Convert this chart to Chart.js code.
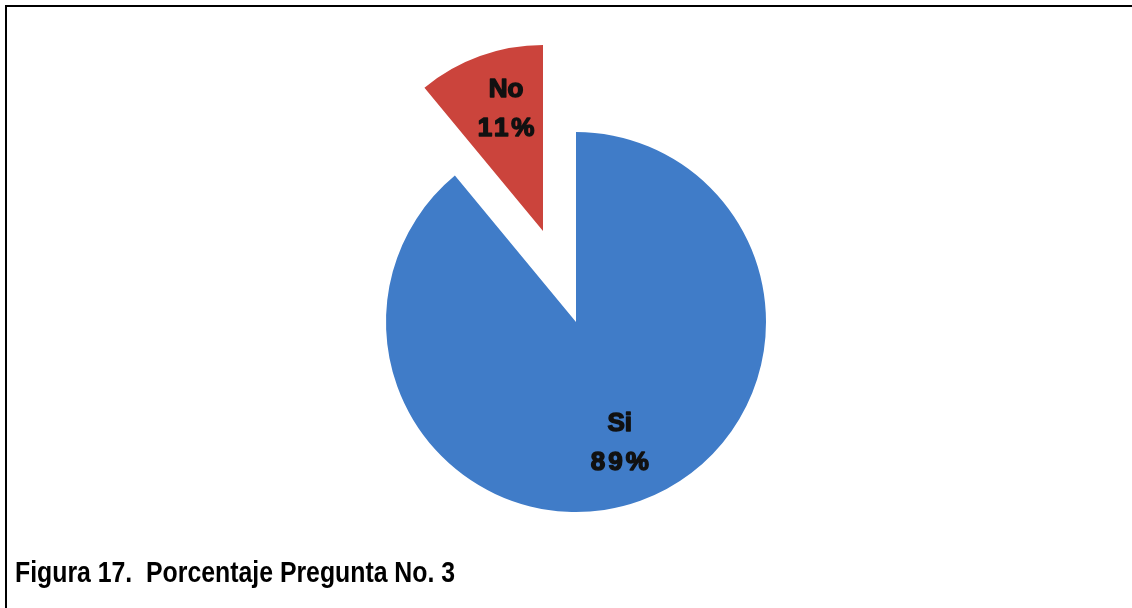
<!DOCTYPE html>
<html lang="es">
<head>
    <meta charset="UTF-8">
    <title>Figura 17</title>
    <script src="https://cdn.jsdelivr.net/npm/chart.js"></script>
    <style>
        body {
            margin: 0;
            background: #fff;
            overflow: hidden;
        }
        .page {
            position: relative;
            width: 1132px;
            height: 608px;
            overflow: hidden;
        }
        .frame {
            position: absolute;
            left: 5px;
            top: 5px;
            width: 1200px;
            height: 700px;
            border-top: 2px solid #000;
            border-left: 2px solid #000;
        }
        .page canvas {
            position: absolute;
            left: 0;
            top: 0;
        }
        .caption {
            position: absolute;
            left: 15px;
            top: 558px;
            font-family: "Liberation Sans", Arial, sans-serif;
            font-weight: bold;
            font-size: 29px;
            line-height: 29px;
            white-space: pre;
            color: #000;
            transform: scaleX(0.856);
            transform-origin: left top;
        }
    </style>
</head>
<body>
    <div class="page">
        <div class="frame"></div>
        <canvas id="pieMain" width="1132" height="608"></canvas>
        <canvas id="pieOut" width="1132" height="608"></canvas>
        <div class="caption">Figura 17.  Porcentaje Pregunta No. 3</div>
    </div>

    <script>
        // Respuestas a la pregunta 3
        const categories = ['Si', 'No'];
        const percentages = [89, 11];
        const labelTexts = ['89%', '11%'];

        // Blue slice, then the red one pulled out of the pie
        const sliceColors = [
            ['#407cc8', '#3667ad'],
            ['#cb443c', '#b0302a']
        ];

        function sliceGradient(context, i) {
            const chart = context.chart;
            const meta = chart.getDatasetMeta(0);
            const arc = meta.data[i];
            if (!arc || !arc.outerRadius) return sliceColors[i][0];
            const g = chart.ctx.createLinearGradient(0, arc.y - arc.outerRadius, 0, arc.y + arc.outerRadius);
            g.addColorStop(0, sliceColors[i][0]);
            g.addColorStop(1, sliceColors[i][1]);
            return g;
        }

        // Draws "category / percent" inside the visible slice
        const sliceLabels = {
            id: 'sliceLabels',
            afterDatasetsDraw(chart, args, opts) {
                const ctx = chart.ctx;
                const arc = chart.getDatasetMeta(0).data[opts.index];
                const mid = (arc.startAngle + arc.endAngle) / 2;
                const r = arc.outerRadius * 0.68;
                const cx = arc.x + Math.cos(mid) * r + opts.dx;
                const cy = arc.y + Math.sin(mid) * r + opts.dy;

                ctx.save();
                ctx.fillStyle = '#111';
                ctx.strokeStyle = '#111';
                ctx.lineWidth = 1.5;
                ctx.lineJoin = 'round';
                ctx.textAlign = 'center';
                ctx.textBaseline = 'middle';
                ctx.font = 'bold 26px "Liberation Sans", Arial, sans-serif';

                const name = categories[opts.index];
                ctx.fillText(name, cx, cy - 19.5);
                ctx.strokeText(name, cx, cy - 19.5);

                ctx.letterSpacing = '3px';
                const pct = labelTexts[opts.index];
                ctx.fillText(pct, cx + 1.5, cy + 19.5);
                ctx.strokeText(pct, cx + 1.5, cy + 19.5);
                ctx.restore();
            }
        };

        function makePie(canvasId, visible, radius, padding, nudge) {
            return new Chart(document.getElementById(canvasId), {
                type: 'pie',
                data: {
                    labels: categories,
                    datasets: [{
                        data: percentages,
                        backgroundColor: (context) => context.dataIndex === visible
                            ? sliceGradient(context, visible)
                            : 'rgba(0,0,0,0)',
                        borderWidth: 0
                    }]
                },
                options: {
                    responsive: false,
                    animation: false,
                    radius: radius,
                    layout: { padding: padding },
                    events: [],
                    plugins: {
                        legend: { display: false },
                        tooltip: { enabled: false },
                        sliceLabels: { index: visible, dx: nudge[0], dy: nudge[1] }
                    }
                },
                plugins: [sliceLabels]
            });
        }

        // Si: the main pie; No: the same pie shifted outwards along its mid angle
        makePie('pieMain', 0, 190, { left: 20, right: 0, top: 36, bottom: 0 }, [0, 0]);
        makePie('pieOut', 1, 186, { left: 0, right: 46, top: 0, bottom: 146 }, [6, -3]);
    </script>
</body>
</html>
